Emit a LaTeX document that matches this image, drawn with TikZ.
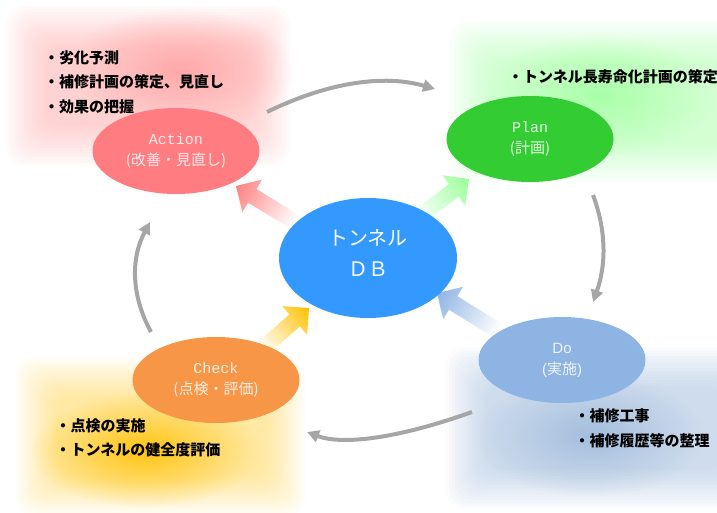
\documentclass[tikz,border=0pt]{standalone}
\usepackage{fontspec}
\setmainfont{Noto Sans CJK JP}
\newfontfamily\jp{Noto Sans CJK JP}
\newfontfamily\mono{Liberation Mono}
\newfontfamily\lsans{Liberation Sans}
\usetikzlibrary{shapes.geometric,arrows.meta,fadings}
\tikzfading[name=glowfade, inner color=transparent!0, outer color=transparent!100]
\definecolor{actc}{HTML}{FF7C80}
\definecolor{planc}{HTML}{33CC33}
\definecolor{dbc}{HTML}{3399FF}
\definecolor{doc}{HTML}{8DB4E2}
\definecolor{checkc}{HTML}{F79646}
\definecolor{cycgray}{HTML}{A6A6A6}
\definecolor{redarr}{HTML}{FF8080}
\definecolor{greenarr}{HTML}{99FF99}
\definecolor{orangearr}{HTML}{FFC000}
\definecolor{bluearr}{HTML}{8EB4E3}
\definecolor{pinkglow}{HTML}{FF9999}
\definecolor{greenglow}{HTML}{99FF99}
\definecolor{blueglow}{HTML}{95B3D7}
\definecolor{goldglow}{HTML}{FFC000}
\begin{document}
\begin{tikzpicture}[x=1pt,y=-1pt,
  phase/.style={ellipse, inner sep=0pt, minimum width=167, minimum height=86,
    align=center, text=white, text opacity=0.85, font=\jp\fontsize{15}{21}\selectfont},
  bullet/.style={anchor=base west, inner sep=0pt, text=black,
    font=\jp\bfseries\fontsize{15}{18}\selectfont},
  cyc/.style={draw=cycgray, line width=4pt, -{Triangle[length=12pt,width=12pt]}},
  blockarrow/.style={left color=white, right color=#1}
]
\useasboundingbox (0,0) rectangle (717,513);

% soft glow boxes
\foreach \i in {0,...,13}{
  \fill[pinkglow, opacity=0.04, rounded corners=18pt] (6+3*\i,6+3*\i) rectangle (290-3*\i,166-3*\i);
  \fill[greenglow, opacity=0.04, rounded corners=18pt] (449+3*\i,21+3*\i) rectangle (760-3*\i,183-3*\i);
  \fill[blueglow, opacity=0.045, rounded corners=18pt] (446+3*\i,347+3*\i) rectangle (760-3*\i,509-3*\i);
  \fill[goldglow, opacity=0.03, rounded corners=18pt] (16+3*\i,357+3*\i) rectangle (305-3*\i,516-3*\i);
}
\fill[pinkglow, opacity=0.75, path fading=glowfade] (180,70) ellipse [x radius=115, y radius=62];
\fill[greenglow, opacity=0.75, path fading=glowfade] (600,95) ellipse [x radius=115, y radius=62];
\fill[blueglow, opacity=0.75, path fading=glowfade] (590,435) ellipse [x radius=115, y radius=62];
\fill[goldglow, opacity=0.9, path fading=glowfade] (145,450) ellipse [x radius=115, y radius=58];

% cycle arrows
\coordinate (c1s) at (267,112);
\coordinate (c1e) at (435,89);
\coordinate (c2s) at (593,195);
\coordinate (c2e) at (593,302);
\coordinate (c3s) at (472,412);
\coordinate (c3e) at (307,432);
\coordinate (c4s) at (151,332);
\coordinate (c4e) at (150,222);
\draw[cyc] (c1s) .. controls (328.3,82) and (384.3,74.3) .. (c1e);
\draw[cyc] (c2s) .. controls (606.3,230.3) and (606.3,264.7) .. (c2e);
\draw[cyc] (c3s) .. controls (397.3,438.7) and (342.3,445.3) .. (c3e);
\draw[cyc] (c4s) .. controls (131,295.3) and (130.7,258.3) .. (c4e);

% block arrows from DB to phases
\coordinate (ra) at (236,186);
\coordinate (ga) at (469,179);
\coordinate (oa) at (309,308);
\coordinate (ba) at (437,293);
\begin{scope}[transform canvas={shift={(ra)}, rotate=148.7}]
  \shade[blockarrow=redarr] (-68,-8) -- (-19,-8) -- (-19,-19) -- (0,0) -- (-19,19) -- (-19,8) -- (-68,8) -- cycle;
\end{scope}
\begin{scope}[transform canvas={shift={(ga)}, rotate=37}]
  \shade[blockarrow=greenarr] (-64,-8) -- (-19,-8) -- (-19,-19) -- (0,0) -- (-19,19) -- (-19,8) -- (-64,8) -- cycle;
\end{scope}
\begin{scope}[transform canvas={shift={(oa)}, rotate=41}]
  \shade[blockarrow=orangearr] (-62,-8) -- (-19,-8) -- (-19,-19) -- (0,0) -- (-19,19) -- (-19,8) -- (-62,8) -- cycle;
\end{scope}
\begin{scope}[transform canvas={shift={(ba)}, rotate=148.3}]
  \shade[blockarrow=bluearr] (-72,-8) -- (-19,-8) -- (-19,-19) -- (0,0) -- (-19,19) -- (-19,8) -- (-72,8) -- cycle;
\end{scope}

% phase ellipses
\node[phase, fill=actc] (act) at (176,151) {{\mono Action}\\(改善・見直し)};
\node[phase, fill=planc] (plan) at (530,139) {{\mono Plan}\\(計画)};
\node[phase, fill=doc, font=\lsans\fontsize{15}{21}\selectfont] (do) at (562,360) {Do\\({\jp 実施})};
\node[phase, fill=checkc] (check) at (216,380) {{\mono Check}\\(点検・評価)};
\node[ellipse, fill=dbc, inner sep=0pt, minimum width=178, minimum height=120] (db) at (368,258) {};
\node[align=center, text=white, font=\jp\fontsize{20}{31}\selectfont] (dbt) at (368,253) {トンネル\\ＤＢ};

% bullet texts
\node[bullet] (a1) at (44,63.5) {・劣化予測};
\node[bullet] (a2) at (44,88) {・補修計画の策定、見直し};
\node[bullet] (a3) at (44,113) {・効果の把握};
\node[bullet] (p1) at (508,82.5) {・トンネル長寿命化計画の策定};
\node[bullet] (d1) at (574.5,421.5) {・補修工事};
\node[bullet] (d2) at (574.5,446) {・補修履歴等の整理};
\node[bullet] (k1) at (55.5,431.5) {・点検の実施};
\node[bullet] (k2) at (55.5,455) {・トンネルの健全度評価};
\end{tikzpicture}
\end{document}
